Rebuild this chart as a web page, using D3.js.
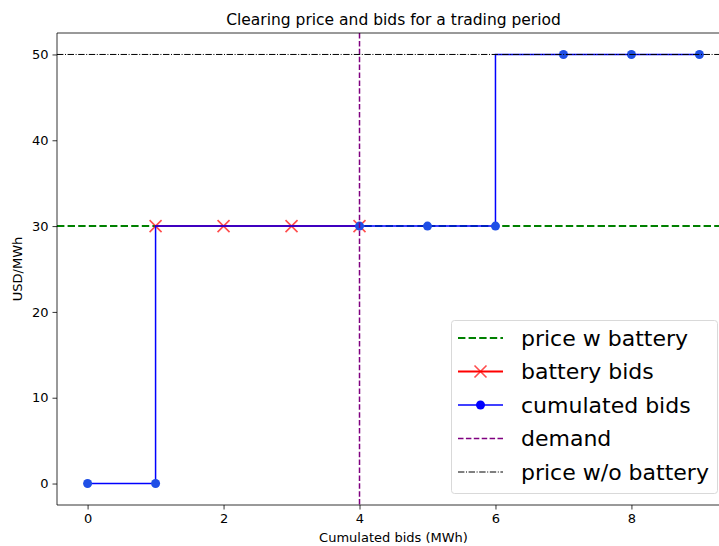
<!DOCTYPE html>
<html>
<head>
<meta charset="utf-8">
<script src="https://cdn.jsdelivr.net/npm/d3@7"></script>
<style>
  html, body { margin: 0; padding: 0; background: #fff; }
  svg { display: block; font-family: "DejaVu Sans", sans-serif; }
</style>
</head>
<body>
<svg id="chart" width="719" height="546"></svg>
<script>
// Merit-order data for one trading period
const cumX = [0, 1, 4, 5, 6, 7, 8, 9];          // cumulated bid volume (MWh)
const cumY = [0, 0, 30, 30, 30, 50, 50, 50];    // bid price (USD/MWh)
const batteryX = [1, 2, 3, 4];
const batteryY = [30, 30, 30, 30];
const priceWithBattery = 30;
const priceWithoutBattery = 50;
const demand = 4;
const xTicks = [0, 2, 4, 6, 8];
const yTicks = [0, 10, 20, 30, 40, 50];

const svg = d3.select("#chart");
const m = { left: 57, top: 33, right: 730, bottom: 505 };

const x = d3.scaleLinear().domain([-0.45, 9.45]).range([m.left, m.right]);
const y = d3.scaleLinear().domain([-2.5, 52.5]).range([m.bottom, m.top]);

svg.append("defs").append("clipPath").attr("id", "plot")
  .append("rect").attr("x", m.left).attr("y", m.top)
  .attr("width", m.right - m.left).attr("height", m.bottom - m.top);

const plot = svg.append("g").attr("clip-path", "url(#plot)");

// price with battery (horizontal)
plot.append("line")
  .attr("x1", m.left).attr("x2", m.right)
  .attr("y1", y(priceWithBattery)).attr("y2", y(priceWithBattery))
  .attr("stroke", "#008000").attr("stroke-width", 2)
  .attr("stroke-dasharray", "7.4,3.2");

// battery bids
plot.append("path")
  .datum(batteryX.map((d, i) => [d, batteryY[i]]))
  .attr("fill", "none").attr("stroke", "#ff0000").attr("stroke-width", 2)
  .attr("d", d3.line().x(d => x(d[0])).y(d => y(d[1])));

const cross = 6;
plot.selectAll(".bx").data(batteryX.map((d, i) => [d, batteryY[i]]))
  .join("path").attr("class", "bx")
  .attr("d", d => {
    const cx = x(d[0]), cy = y(d[1]);
    return `M${cx - cross},${cy - cross}L${cx + cross},${cy + cross}M${cx - cross},${cy + cross}L${cx + cross},${cy - cross}`;
  })
  .attr("stroke", "#ff0000").attr("stroke-opacity", 0.7).attr("stroke-width", 1.6);

// cumulated bids (step line)
const cum = cumX.map((d, i) => [d, cumY[i]]);
plot.append("path").datum(cum)
  .attr("fill", "none").attr("stroke", "#0000ff").attr("stroke-width", 1.5)
  .attr("d", d3.line().curve(d3.curveStepBefore).x(d => x(d[0])).y(d => y(d[1])));
plot.selectAll(".cd").data(cum).join("circle").attr("class", "cd")
  .attr("cx", d => x(d[0])).attr("cy", d => y(d[1])).attr("r", 4.5)
  .attr("fill", "#1f4fe6");

// demand (vertical)
plot.append("line")
  .attr("x1", x(demand)).attr("x2", x(demand))
  .attr("y1", m.top).attr("y2", m.bottom)
  .attr("stroke", "#800080").attr("stroke-width", 1.5)
  .attr("stroke-dasharray", "5.5,2.4");

// price without battery
plot.append("line")
  .attr("x1", m.left).attr("x2", m.right)
  .attr("y1", y(priceWithoutBattery)).attr("y2", y(priceWithoutBattery))
  .attr("stroke", "#000").attr("stroke-width", 1)
  .attr("stroke-dasharray", "6.4,1.6,1,1.6");

// axes
const xAxis = svg.append("g").attr("transform", `translate(0,${m.bottom})`)
  .call(d3.axisBottom(x).tickValues(xTicks).tickFormat(d3.format("d")).tickSize(4.5).tickPadding(4));
const yAxis = svg.append("g").attr("transform", `translate(${m.left},0)`)
  .call(d3.axisLeft(y).tickValues(yTicks).tickFormat(d3.format("d")).tickSize(4.5).tickPadding(4));
[xAxis, yAxis].forEach(a => {
  a.select(".domain").remove();
  a.selectAll("text").attr("font-size", 13).attr("fill", "#000").attr("font-family", "DejaVu Sans");
  a.selectAll("line").attr("stroke", "#000").attr("stroke-width", 0.8);
});

// spines
svg.append("path")
  .attr("d", `M${m.left},${m.top}V${m.bottom}H${m.right}M${m.left},${m.top}H${m.right}V${m.bottom}`)
  .attr("fill", "none").attr("stroke", "#000").attr("stroke-width", 0.8);

// titles
svg.append("text").attr("x", (m.left + m.right) / 2).attr("y", 25)
  .attr("text-anchor", "middle").attr("font-size", 15.5).text("Clearing price and bids for a trading period");
svg.append("text").attr("x", (m.left + m.right) / 2).attr("y", 542)
  .attr("text-anchor", "middle").attr("font-size", 13).text("Cumulated bids (MWh)");
svg.append("text").attr("transform", `translate(22,${(m.top + m.bottom) / 2}) rotate(-90)`)
  .attr("text-anchor", "middle").attr("font-size", 13).text("USD/MWh");

// legend
const legendItems = [
  { label: "price w battery", type: "dash", color: "#008000", width: 2, dash: "7.4,3.2" },
  { label: "battery bids", type: "cross", color: "#ff0000", width: 2 },
  { label: "cumulated bids", type: "dot", color: "#0000ff", width: 1.5 },
  { label: "demand", type: "dash", color: "#800080", width: 1.5, dash: "5.5,2.4" },
  { label: "price w/o battery", type: "dash", color: "#000", width: 1, dash: "6.4,1.6,1,1.6" }
];
const lg = svg.append("g");
lg.append("rect").attr("x", 451.5).attr("y", 320.5).attr("width", 266).attr("height", 173)
  .attr("rx", 3).attr("fill", "#fff").attr("fill-opacity", 0.8)
  .attr("stroke", "#d9d9d9").attr("stroke-width", 1);
const rowY = [338, 371.5, 405, 438.5, 472];
legendItems.forEach((it, i) => {
  const g = lg.append("g").attr("transform", `translate(0,${rowY[i]})`);
  g.append("line").attr("x1", 458).attr("x2", 503).attr("y1", 0).attr("y2", 0)
    .attr("stroke", it.color).attr("stroke-width", it.width)
    .attr("stroke-dasharray", it.dash || null);
  if (it.type === "cross") {
    g.append("path").attr("d", `M${480.5 - cross},${-cross}L${480.5 + cross},${cross}M${480.5 - cross},${cross}L${480.5 + cross},${-cross}`)
      .attr("stroke", "#ff0000").attr("stroke-opacity", 0.7).attr("stroke-width", 1.6);
  }
  if (it.type === "dot") {
    g.append("circle").attr("cx", 480.5).attr("cy", 0).attr("r", 4.5).attr("fill", "#0000ff");
  }
  g.append("text").attr("x", 521).attr("y", 0).attr("dy", "0.35em")
    .attr("font-size", 22).attr("fill", "#000").text(it.label);
});
</script>
</body>
</html>
